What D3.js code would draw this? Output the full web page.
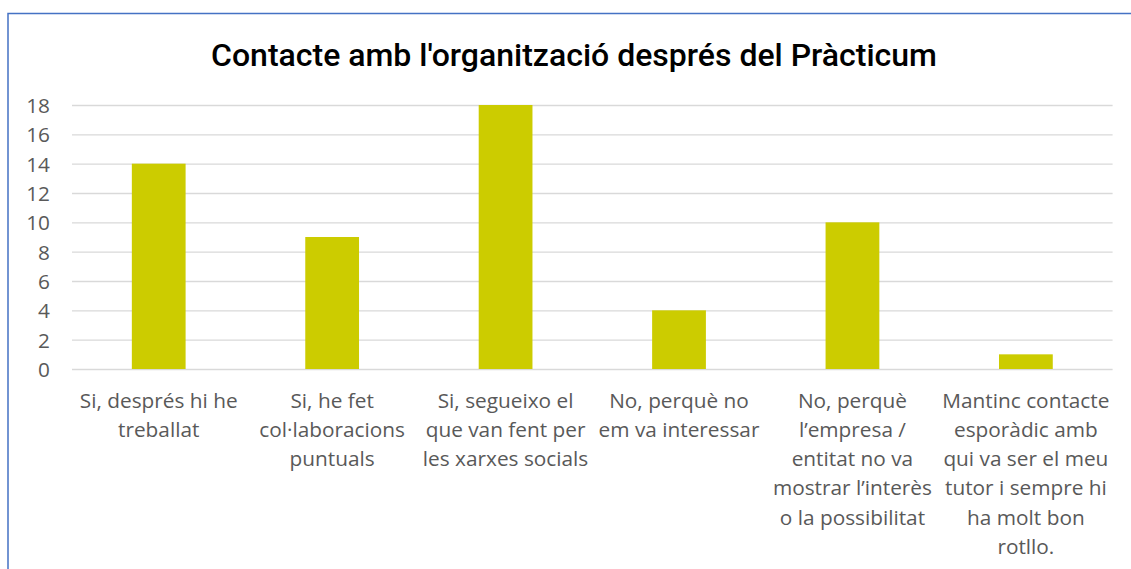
<!DOCTYPE html>
<html>
<head>
<meta charset="utf-8">
<script src="https://cdn.jsdelivr.net/npm/d3@7"></script>
<style>
  html, body { margin: 0; padding: 0; background: #fff; }
  svg { display: block; }
</style>
</head>
<body>
<svg id="chart" width="1131" height="569"></svg>
<script>
const title = "Contacte amb l'organització després del Pràcticum";
const categories = [
  "Si, després hi he\ntreballat",
  "Si, he fet\ncol·laboracions\npuntuals",
  "Si, segueixo el\nque van fent per\nles xarxes socials",
  "No, perquè no\nem va interessar",
  "No, perquè\nl’empresa /\nentitat no va\nmostrar l’interès\no la possibilitat",
  "Mantinc contacte\nesporàdic amb\nqui va ser el meu\ntutor i sempre hi\nha molt bon\nrotllo."
];
const values = [14, 9, 18, 4, 10, 1];
const yTicks = [0, 2, 4, 6, 8, 10, 12, 14, 16, 18];

const svg = d3.select("#chart");
const plot = { left: 72, right: 1112.6, top: 105, bottom: 369 };

// outer border
svg.append("rect")
  .attr("x", 8).attr("y", 13.5)
  .attr("width", 1300).attr("height", 700)
  .attr("fill", "#fff")
  .attr("stroke", "#4472c4").attr("stroke-width", 1.5);

const x = d3.scaleBand()
  .domain(categories)
  .range([plot.left, plot.right])
  .paddingInner(0.69)
  .paddingOuter(0.345);

const y = d3.scaleLinear()
  .domain([0, 18])
  .range([plot.bottom, plot.top]);

// gridlines + y labels
const yAxis = d3.axisLeft(y).tickValues(yTicks).tickSize(-(plot.right - plot.left)).tickPadding(22);
const gY = svg.append("g")
  .attr("transform", `translate(${plot.left},0)`)
  .call(yAxis);
gY.select(".domain").remove();
gY.selectAll(".tick line")
  .attr("stroke", "#d9d9d9").attr("stroke-width", 1.4);
gY.selectAll(".tick text")
  .attr("fill", "#595959")
  .attr("font-family", "'Open Sans', sans-serif")
  .attr("font-size", 20.8)
  .attr("dy", "0.36em");

// bars
svg.append("g").selectAll("rect")
  .data(values)
  .join("rect")
  .attr("x", (d, i) => x(categories[i]))
  .attr("width", x.bandwidth())
  .attr("y", d => y(d))
  .attr("height", d => y(0) - y(d))
  .attr("fill", "#cccc00");

// category labels
const gX = svg.append("g");
categories.forEach((c, i) => {
  const cx = x(c) + x.bandwidth() / 2;
  const t = gX.append("text")
    .attr("x", cx)
    .attr("y", 407.5)
    .attr("text-anchor", "middle")
    .attr("fill", "#595959")
    .attr("font-family", "'Open Sans', sans-serif")
    .attr("font-size", 20.8);
  c.split("\n").forEach((line, j) => {
    t.append("tspan")
      .attr("x", cx)
      .attr("dy", j === 0 ? 0 : 29.3)
      .text(line);
  });
});

// title
svg.append("text")
  .attr("x", 574)
  .attr("y", 66)
  .attr("text-anchor", "middle")
  .attr("font-family", "Roboto, sans-serif")
  .attr("font-weight", 500)
  .attr("font-size", 32)
  .attr("fill", "#000")
  .text(title);
</script>
</body>
</html>
